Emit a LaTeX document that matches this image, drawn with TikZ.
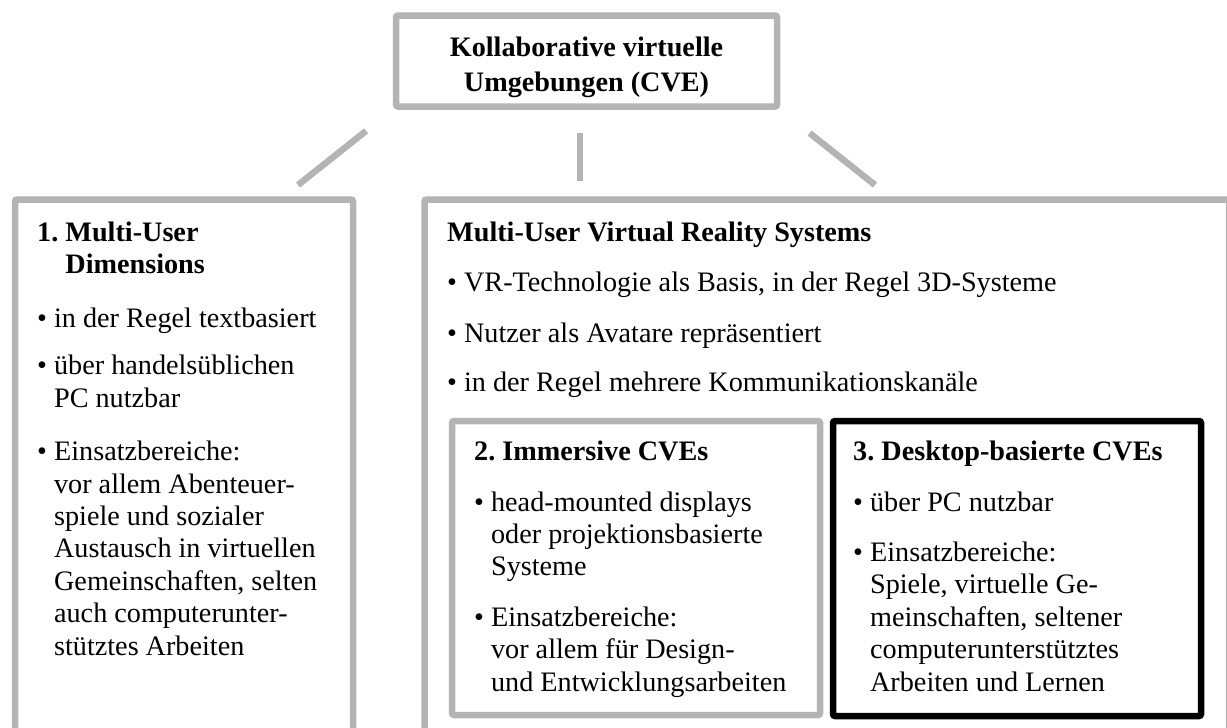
\documentclass[tikz,border=0pt]{standalone}
\usepackage{fontspec}
\setmainfont{Liberation Serif}
\usetikzlibrary{calc}

\definecolor{boxgray}{HTML}{B4B4B4}
\newcommand{\bul}{\textbullet\ }
\newcommand{\ein}{\phantom{\textbullet\ }}
\frenchspacing

\begin{document}
\begin{tikzpicture}[x=1pt,y=-1pt]
  \tikzset{
    graybox/.style={draw=boxgray,line width=6.5pt,rounded corners=2pt,inner sep=0pt},
    blackbox/.style={draw=black,line width=6.5pt,rounded corners=2pt,inner sep=0pt},
    boxtext/.style={anchor=north west,inner sep=0pt,align=left,font=\fontsize{28.2}{32.4}\selectfont},
    conn/.style={draw=boxgray,line width=6.5pt}
  }
  \useasboundingbox (0,0) rectangle (1227,728);
  \clip (0,0) rectangle (1227,728);

  % Boxen
  \node[graybox,minimum width=381,minimum height=91] (cve) at (586.5,61) {};
  \node[graybox,minimum width=338,minimum height=580] (mud) at (184,489.5) {};
  \node[graybox,minimum width=804.5,minimum height=580] (mvr) at (826.75,489.5) {};
  \node[graybox,minimum width=368,minimum height=294] (imm) at (636,568) {};
  \node[blackbox,minimum width=368,minimum height=295] (dsk) at (1017,568.5) {};

  % Verbindungen
  \coordinate (lft) at (298,185);
  \coordinate (rgt) at (875,185);
  \draw[conn,shorten <=34pt] (cve.south west) -- (lft);
  \draw[conn,shorten <=23.5pt,shorten >=15.5pt] ([xshift=-6.5pt]cve.south) -- ([xshift=-6.5pt]cve.south |- mvr.north);
  \draw[conn,shorten <=37.5pt] (cve.south east) -- (rgt);

  % Texte
  \node[inner sep=0pt,align=center,font=\fontsize{28.2}{35}\selectfont\bfseries] (cvetxt) at ([yshift=-6pt]cve.center) {Kollaborative virtuelle\\Umgebungen (CVE)};

  \node[boxtext] (mudtxt) at (37,221.5) {\textbf{1. Multi-User}\\
    \phantom{\textbf{1. }}\textbf{Dimensions}\\[21pt]
    \bul in der Regel textbasiert\\[15.5pt]
    \bul über handelsüblichen\\
    \ein PC nutzbar\\[21pt]
    \bul Einsatzbereiche:\\
    \ein vor allem Abenteuer-\\
    \ein spiele und sozialer\\
    \ein Austausch in virtuellen\\
    \ein Gemeinschaften, selten\\
    \ein auch computerunter-\\
    \ein stütztes Arbeiten};

  \node[boxtext] (mvrtxt) at (447,221.5) {\textbf{Multi-User Virtual Reality Systems}\\[18pt]
    \bul VR-Technologie als Basis, in der Regel 3D-Systeme\\[18pt]
    \bul Nutzer als Avatare repräsentiert\\[17pt]
    \bul in der Regel mehrere Kommunikationskanäle};

  \node[boxtext] (immtxt) at (474,440.5) {\textbf{2. Immersive CVEs}\\[18.5pt]
    \bul head-mounted displays\\
    \ein oder projektionsbasierte\\
    \ein Systeme\\[18pt]
    \bul Einsatzbereiche:\\
    \ein vor allem für Design-\\
    \ein und Entwicklungsarbeiten};

  \node[boxtext] (dsktxt) at (853,440.5) {\textbf{3. Desktop-basierte CVEs}\\[18.5pt]
    \bul über PC nutzbar\\[18pt]
    \bul Einsatzbereiche:\\
    \ein Spiele, virtuelle Ge-\\
    \ein meinschaften, seltener\\
    \ein computerunterstütztes\\
    \ein Arbeiten und Lernen};

\end{tikzpicture}
\end{document}
